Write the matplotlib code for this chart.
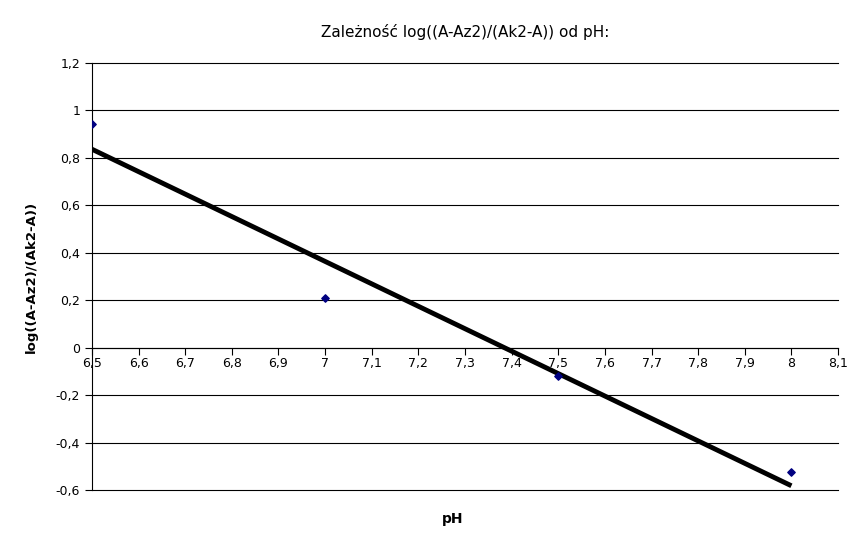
import matplotlib
matplotlib.use("Agg")
import matplotlib.pyplot as plt
from matplotlib.ticker import FuncFormatter, MultipleLocator
import numpy as np

ph = [6.5, 7.0, 7.5, 8.0]
log_ratio = [0.943, 0.209, -0.119, -0.524]

def comma(v, pos):
    s = "%.1f" % v
    if s.endswith(".0"):
        s = s[:-2]
    if s == "-0":
        s = "0"
    return s.replace(".", ",")

fig = plt.figure(figsize=(8.66, 5.48), dpi=100)
ax = fig.add_axes([0.1062, 0.1058, 0.8615, 0.7792])

# linia trendu (regresja liniowa)
a, b = np.polyfit(ph, log_ratio, 1)
xt = np.array([ph[0], ph[-1]])
ax.plot(xt, a * xt + b, color="black", lw=3.5, solid_capstyle="butt", zorder=3)

ax.scatter(ph, log_ratio, marker="D", s=14, color="#000080", zorder=4)

ax.set_xlim(6.5, 8.1)
ax.set_ylim(-0.6, 1.2)
ax.xaxis.set_major_locator(MultipleLocator(0.1))
ax.yaxis.set_major_locator(MultipleLocator(0.2))
ax.xaxis.set_major_formatter(FuncFormatter(comma))
ax.yaxis.set_major_formatter(FuncFormatter(comma))

ax.yaxis.grid(True, color="black", lw=0.8)
for gl in ax.get_ygridlines():
    gl.set_clip_on(False)
ax.set_axisbelow(True)
for s in ["top", "right"]:
    ax.spines[s].set_visible(False)
ax.spines["bottom"].set_position(("data", 0))
ax.spines["left"].set_linewidth(0.8)
ax.spines["bottom"].set_linewidth(0.8)
ax.tick_params(axis="both", direction="out", length=5, width=0.8, labelsize=9)
ax.tick_params(axis="x", pad=2)

ax.set_title("Zależność log((A-Az2)/(Ak2-A)) od pH:", fontsize=11, pad=19)
ax.set_ylabel("log((A-Az2)/(Ak2-A))", fontsize=9.5, fontweight="bold", labelpad=13)
fig.text(0.523, 0.045, "pH", fontsize=10, fontweight="bold", ha="center")

fig.savefig("out.png", dpi=100)
